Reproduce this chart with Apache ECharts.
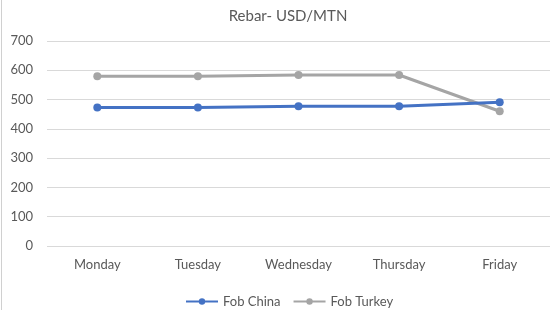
<!DOCTYPE html>
<html><head><meta charset="utf-8">
<script src="https://cdn.jsdelivr.net/npm/echarts@6/dist/echarts.min.js"></script>
<style>html,body{margin:0;padding:0;background:#fff}#c{width:550px;height:310px}</style>
</head><body><div id="c"></div>
<script>
const categories = ['Monday','Tuesday','Wednesday','Thursday','Friday'];
const fobChina = [473, 473, 477, 477, 491];
const fobTurkey = [580, 580, 584, 584, 460];
const yTicks = {min: 0, max: 700, interval: 100};

const chart = echarts.init(document.getElementById('c'), null, {renderer: 'canvas'});
const font = 'Lato, "Open Sans", sans-serif';
chart.setOption({
  backgroundColor: '#fff',
  animation: false,
  title: {text: 'Rebar- USD/MTN', left: 283, top: 4, textAlign: 'center',
    textStyle: {fontFamily: font, fontSize: 15, fontWeight: 'normal', color: '#595959'}},
  graphic: [{type: 'line', shape: {x1: 1.5, y1: 0, x2: 1.5, y2: 310}, style: {stroke: '#d0d0d0', lineWidth: 1}}],
  legend: {left: 180, top: 290, itemWidth: 32, itemHeight: 8, itemGap: 12,
    textStyle: {fontFamily: font, fontSize: 13, color: '#595959'},
    data: ['Fob China', 'Fob Turkey']},
  grid: {left: 47, top: 41, width: 533, height: 205, containLabel: false},
  xAxis: {type: 'category', data: categories, boundaryGap: true,
    axisLine: {show: false}, axisTick: {show: false},
    axisLabel: {fontFamily: font, fontSize: 13, color: '#595959', margin: 12}},
  yAxis: {type: 'value', min: yTicks.min, max: yTicks.max, interval: yTicks.interval,
    axisLine: {show: false}, axisTick: {show: false},
    splitLine: {lineStyle: {color: '#d9d9d9', width: 1}},
    axisLabel: {fontFamily: font, fontSize: 13, color: '#595959', margin: 14}},
  series: [
    {name: 'Fob China', type: 'line', data: fobChina, color: '#4472C4',
     symbol: 'circle', symbolSize: 8, lineStyle: {width: 3}, z: 3},
    {name: 'Fob Turkey', type: 'line', data: fobTurkey, color: '#A5A5A5',
     symbol: 'circle', symbolSize: 8, lineStyle: {width: 3}, z: 2}
  ]
});
</script></body></html>
